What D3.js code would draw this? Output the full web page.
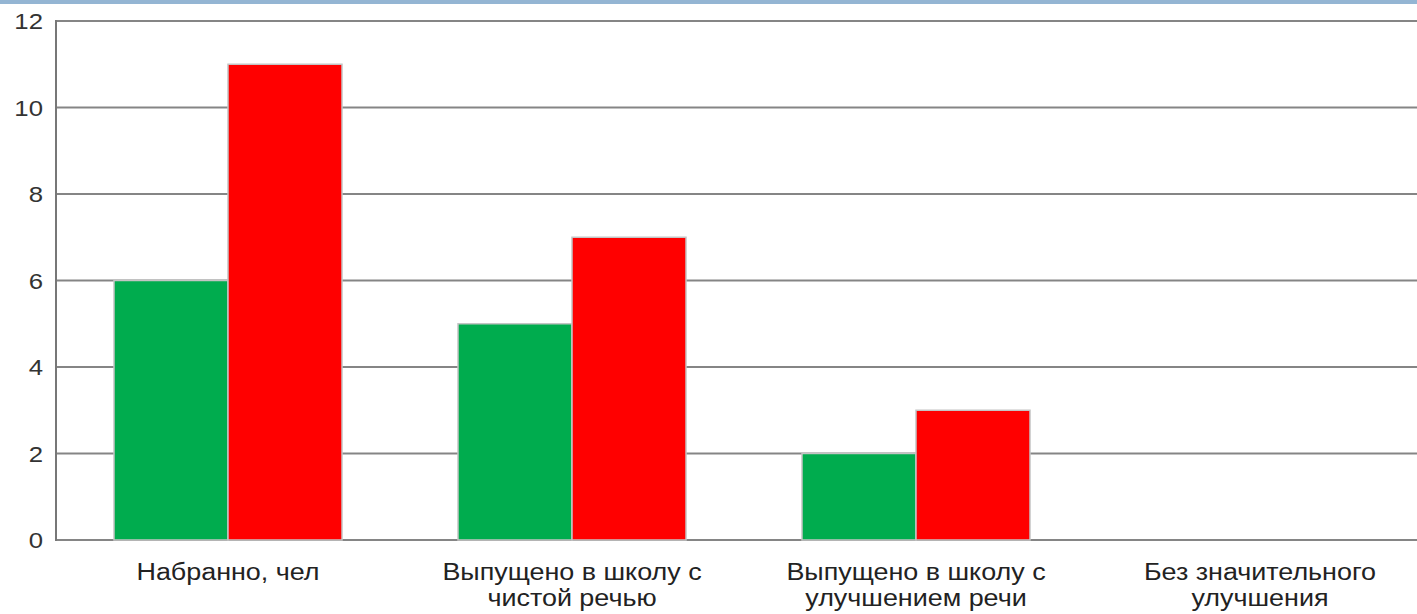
<!DOCTYPE html>
<html>
<head>
<meta charset="utf-8">
<script src="https://cdn.jsdelivr.net/npm/d3@7"></script>
<style>
  body { margin: 0; background: #fff; overflow: hidden; }
  svg { display: block; font-family: "Liberation Sans", Arial, sans-serif; }
</style>
</head>
<body>
<script>
let width = 1417;
let height = 614;

let categories = [
  ["Набранно, чел"],
  ["Выпущено в школу с", "чистой речью"],
  ["Выпущено в школу с", "улучшением речи"],
  ["Без значительного", "улучшения"]
];
let greenValues = [6, 5, 2, 0];
let redValues = [11, 7, 3, 0];
let yTicks = [0, 2, 4, 6, 8, 10, 12];

let margin = {left: 56, top: 21, bottom: 74};
let step = 344;

let svg = d3.select("body").append("svg").attr("width", width).attr("height", height);

// blue strip along the top edge
svg.append("rect").attr("x", 0).attr("y", 0).attr("width", width).attr("height", 4).attr("fill", "#94b5d3");

let x = d3.scaleBand().domain(d3.range(categories.length)).range([margin.left, margin.left + step * categories.length]);
let y = d3.scaleLinear().domain([0, 12]).range([height - margin.bottom, margin.top]);

// gridlines
svg.append("g").selectAll("line").data(yTicks).enter().append("line")
  .attr("x1", margin.left).attr("x2", width)
  .attr("y1", d => y(d)).attr("y2", d => y(d))
  .attr("stroke", "#858585").attr("stroke-width", 2);

// left axis line
svg.append("line").attr("x1", margin.left).attr("x2", margin.left)
  .attr("y1", y(12) - 1).attr("y2", y(0) + 1)
  .attr("stroke", "#777").attr("stroke-width", 2);

// y tick labels (text in the source is a bit stretched sideways)
svg.append("g").selectAll("text").data(yTicks).enter().append("text")
  .attr("transform", d => "translate(43," + y(d) + ") scale(1.12,1)")
  .attr("dy", "0.36em")
  .attr("text-anchor", "end").attr("font-size", 23).attr("fill", "#333")
  .text(d => d);

let barW = 114;
let groups = svg.append("g").selectAll("g").data(categories).enter().append("g");

groups.append("rect")
  .attr("x", (d, i) => x(i) + x.bandwidth() / 2 - barW)
  .attr("y", (d, i) => y(greenValues[i]))
  .attr("width", barW)
  .attr("height", (d, i) => y(0) - y(greenValues[i]))
  .attr("fill", "#00ac4e").attr("stroke", "#c4c4c4").attr("stroke-width", 1.5);

groups.append("rect")
  .attr("x", (d, i) => x(i) + x.bandwidth() / 2)
  .attr("y", (d, i) => y(redValues[i]))
  .attr("width", barW)
  .attr("height", (d, i) => y(0) - y(redValues[i]))
  .attr("fill", "#ff0000").attr("stroke", "#c4c4c4").attr("stroke-width", 1.5)
  .attr("display", (d, i) => redValues[i] === 0 ? "none" : null);

// category labels
let labels = groups.append("text")
  .attr("transform", (d, i) => "translate(" + (x(i) + x.bandwidth() / 2) + ",0) scale(1.17,1)")
  .attr("text-anchor", "middle").attr("font-size", 23).attr("fill", "#222");
labels.selectAll("tspan").data(d => d).enter().append("tspan")
  .attr("x", 0)
  .attr("y", (d, j) => 580 + j * 26)
  .text(d => d);
</script>
</body>
</html>
